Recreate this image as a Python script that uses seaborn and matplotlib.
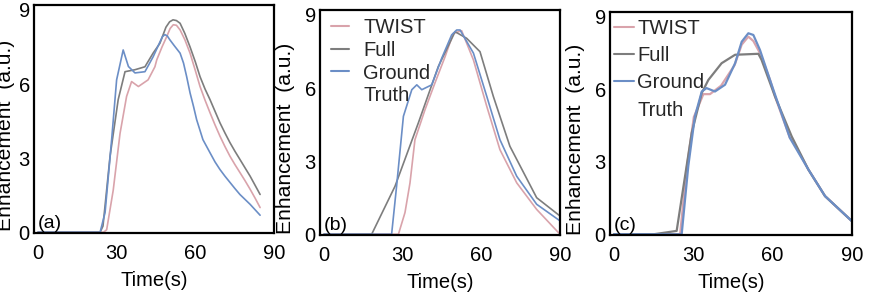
import numpy as np
import pandas as pd
import matplotlib
matplotlib.use("Agg")
import matplotlib.pyplot as plt
from matplotlib.lines import Line2D
import seaborn as sns

sns.set_theme(style="white")
plt.rcParams['font.family'] = ['Liberation Sans', 'DejaVu Sans']

series_names = ["TWIST", "Full", "Ground Truth"]
colors = {"TWIST": "#d9a3ab", "Full": "#7d7d7d", "Ground Truth": "#6b8ec6"}

# ---- panel (a) ----
a_twist_t = [0, 25.0, 26.2, 28.7, 31.3, 33.8, 35.7, 38.3, 42.0, 44.6, 45.3, 47.3, 49.1, 50.4, 51.6, 52.8, 54.2, 56.0, 58.0, 60.0, 61.8, 63.7, 65.6, 67.5, 69.4, 71.3, 73.2, 75.1, 77.0, 79.0, 80.9, 82.8, 84.7]
a_twist_y = [0, 0, 0.1, 1.7, 4.0, 5.5, 6.1, 5.9, 6.17, 6.7, 6.98, 7.5, 7.92, 8.25, 8.4, 8.38, 8.19, 7.8, 7.25, 6.55, 5.9, 5.35, 4.84, 4.35, 3.89, 3.47, 3.08, 2.74, 2.42, 2.08, 1.74, 1.38, 1.0]
a_full_t = [0, 23.7, 24.8, 27.5, 30.6, 33.2, 37.0, 40.8, 43.9, 46.5, 48.8, 50.2, 51.5, 52.8, 54.2, 56.0, 58.0, 60.0, 61.8, 63.7, 65.6, 67.5, 69.4, 71.3, 73.2, 75.1, 77.0, 79.0, 80.9, 82.8, 84.7]
a_full_y = [0, 0, 0.25, 3.08, 5.37, 6.5, 6.58, 6.7, 7.25, 7.65, 8.3, 8.52, 8.6, 8.57, 8.46, 8.05, 7.5, 6.9, 6.3, 5.8, 5.37, 4.9, 4.43, 4.02, 3.63, 3.28, 2.95, 2.6, 2.27, 1.9, 1.53]
a_gt_t = [0, 23.7, 25.6, 28.1, 30.0, 32.5, 34.5, 37.0, 40.8, 43.9, 46.5, 47.5, 48.4, 49.3, 50.3, 52.0, 54.2, 55.5, 56.7, 58.0, 59.3, 60.5, 62.9, 65.6, 67.5, 69.4, 71.3, 73.2, 75.1, 77.0, 80.9, 84.7]
a_gt_y = [0, 0, 0.8, 3.75, 6.17, 7.38, 6.71, 6.45, 6.5, 7.1, 7.7, 7.92, 8.0, 7.95, 7.79, 7.55, 7.25, 6.85, 6.3, 5.64, 5.1, 4.56, 3.75, 3.22, 2.85, 2.54, 2.27, 2.02, 1.77, 1.53, 1.13, 0.69]

# ---- panel (b) ----
b_twist_t = [0, 28.4, 30.9, 32.8, 34.7, 38.5, 42.3, 46.2, 49.3, 52.5, 57.0, 62.1, 67.1, 73.5, 81.1, 90.0]
b_twist_y = [0, 0, 0.89, 2.1, 3.88, 5.1, 6.2, 7.29, 8.24, 8.35, 7.15, 5.24, 3.47, 2.11, 1.02, 0.0]
b_full_t = [0, 18.2, 27.1, 36.0, 43.6, 50.0, 54.4, 59.5, 64.6, 70.9, 81.1, 90.0]
b_full_y = [0, 0, 1.97, 4.57, 6.88, 8.31, 8.04, 7.49, 5.65, 3.61, 1.5, 0.75]
b_gt_t = [0, 25.8, 27.7, 30.3, 33.5, 35.4, 37.3, 41.1, 44.9, 48.7, 50.6, 51.9, 57.0, 62.1, 67.1, 73.5, 81.1, 90.0]
b_gt_y = [0, 0, 1.97, 4.84, 5.93, 6.13, 5.93, 6.13, 7.22, 8.18, 8.38, 8.38, 7.43, 5.65, 3.88, 2.38, 1.23, 0.55]

# ---- panel (c) ----
c_twist_t = [0, 25.0, 27.6, 30.2, 33.8, 36.3, 40.5, 45.6, 48.3, 50.8, 52.7, 55.2, 59.0, 60.9, 66.5, 67.2, 73.5, 79.8, 89.9]
c_twist_y = [0, 0, 2.8, 4.85, 5.8, 5.8, 6.15, 7.0, 7.85, 8.18, 8.0, 7.5, 6.39, 5.7, 4.0, 3.95, 2.68, 1.58, 0.55]
c_full_t = [0, 15.0, 23.7, 29.4, 33.2, 35.7, 40.7, 45.8, 54.6, 55.8, 60.9, 67.2, 73.5, 79.8, 89.9]
c_full_y = [0, 0.0, 0.14, 4.2, 5.85, 6.39, 7.08, 7.43, 7.47, 7.22, 5.7, 4.05, 2.68, 1.58, 0.55]
c_gt_t = [0, 25.6, 28.1, 30.6, 33.2, 35.0, 38.2, 42.0, 45.8, 48.3, 50.8, 52.7, 55.2, 59.0, 66.5, 73.5, 79.8, 89.9]
c_gt_y = [0, 0, 2.82, 4.88, 5.91, 6.05, 5.91, 6.19, 7.08, 7.97, 8.32, 8.25, 7.63, 6.39, 3.99, 2.68, 1.58, 0.55]

x_ticks = [0, 30, 60, 90]
y_ticks = [0, 3, 6, 9]
panel_labels = ["(a)", "(b)", "(c)"]


def frame(tw_t, tw_y, fu_t, fu_y, gt_t, gt_y):
    parts = []
    for name, t, y in [("TWIST", tw_t, tw_y), ("Full", fu_t, fu_y), ("Ground Truth", gt_t, gt_y)]:
        parts.append(pd.DataFrame({"t": t, "y": y, "series": name}))
    return pd.concat(parts, ignore_index=True)


data = [
    frame(a_twist_t, a_twist_y, a_full_t, a_full_y, a_gt_t, a_gt_y),
    frame(b_twist_t, b_twist_y, b_full_t, b_full_y, b_gt_t, b_gt_y),
    frame(c_twist_t, c_twist_y, c_full_t, c_full_y, c_gt_t, c_gt_y),
]

W, H = 870, 295
fig = plt.figure(figsize=(W / 100, H / 100), dpi=100)
boxes = [(34, 274, 5, 233), (320, 560, 10, 235), (610, 852, 12, 235)]
line_widths = [1.2, 1.2, 1.6]
ylabel_x = [-0.08, -0.105, -0.105]
fs = 14.5

for i, (df, (l, r, t, b)) in enumerate(zip(data, boxes)):
    ax = fig.add_axes([l / W, (H - b) / H, (r - l) / W, (b - t) / H])
    sns.lineplot(data=df, x="t", y="y", hue="series", hue_order=series_names,
                 palette=colors, estimator=None, sort=False, linewidth=line_widths[i],
                 ax=ax, legend=False)
    ax.set_xlim(-1.5, 90)
    ax.set_ylim(-0.03, 9.2)
    ax.set_xticks(x_ticks)
    ax.set_yticks(y_ticks)
    ax.tick_params(axis='both', length=0, labelsize=fs, colors='black')
    ax.tick_params(axis='x', pad=8)
    ax.tick_params(axis='y', pad=3)
    for s in ax.spines.values():
        s.set_visible(True)
        s.set_color('black')
        s.set_linewidth(1.6)
    ax.set_xlabel("Time(s)", fontsize=fs, color='black', labelpad=6)
    ax.set_ylabel("Enhancement  (a.u.)", fontsize=15.2, color='black')
    ax.yaxis.set_label_coords(ylabel_x[i], 0.43)
    ax.text(0.015, 0.005, panel_labels[i], transform=ax.transAxes,
            fontsize=fs - 0.5, ha='left', va='bottom', color='black')

    if i > 0:
        handles = [Line2D([], [], color=colors[n], linewidth=1.5) for n in series_names]
        handles.append(Line2D([], [], color='none'))
        labels = ["TWIST", "Full", "Ground", "Truth"]
        if i == 1:
            ax.legend(handles, labels, loc='upper left', frameon=False, fontsize=fs,
                      handlelength=0.9, handletextpad=0.7, labelspacing=0.18,
                      borderaxespad=0.1, borderpad=0.2, bbox_to_anchor=(0.02, 0.99))
        else:
            ax.legend(handles, labels, loc='upper left', frameon=False, fontsize=fs,
                      handlelength=1.0, handletextpad=0.15, labelspacing=0.40,
                      borderaxespad=0.0, borderpad=0.2, bbox_to_anchor=(0.0, 0.985))

fig.savefig("out.png", dpi=100)
